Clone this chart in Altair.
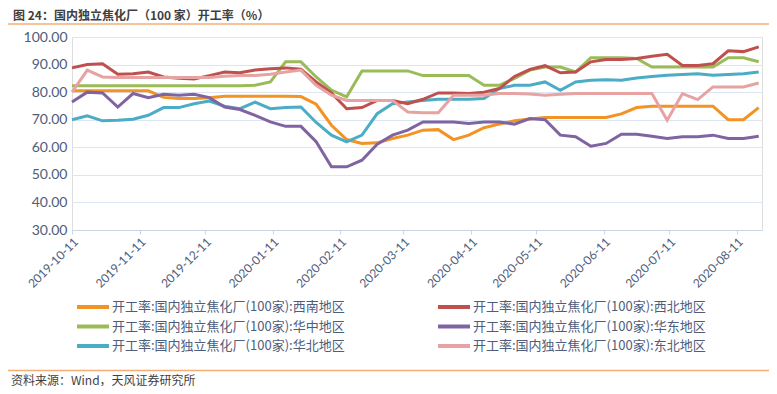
import altair as alt
import pandas as pd

# ---- data ----
dates = pd.date_range("2019-10-11", periods=46, freq="7D")

prefix = "开工率:国内独立焦化厂(100家):"
# legend fills column by column: left column first, then right column
regions = ["西南地区", "华中地区", "华北地区", "西北地区", "华东地区", "东北地区"]
colors = ["#F39324", "#9BBB59", "#4BACC6", "#C0504D", "#8064A2", "#E6A3A1"]

southwest = [80.5, 80.5, 80.5, 80.5, 80.5, 80.5, 78.1, 77.7, 77.7, 78.0,
             78.5, 78.5, 78.5, 78.5, 78.5, 78.4, 75.6, 68.0, 62.8, 61.4,
             61.6, 63.2, 64.4, 66.2, 66.4, 62.8, 64.4, 67.1, 68.4, 69.6,
             70.3, 70.8, 70.8, 70.8, 70.8, 70.8, 72.1, 74.4, 74.9, 74.9,
             74.9, 74.9, 74.9, 70.0, 70.0, 74.4]
central = [82.3, 82.3, 82.3, 82.3, 82.3, 82.3, 82.3, 82.3, 82.3, 82.3,
           82.3, 82.3, 82.5, 83.7, 91.0, 91.0, 85.5, 80.7, 78.3, 87.7,
           87.7, 87.7, 87.7, 86.0, 86.0, 86.0, 86.0, 82.5, 82.5, 85.0,
           88.0, 89.1, 89.1, 87.3, 92.5, 92.5, 92.5, 92.2, 89.1, 89.1,
           89.1, 89.1, 89.1, 92.5, 92.5, 91.0]
north = [70.0, 71.4, 69.6, 69.8, 70.2, 71.6, 74.4, 74.4, 75.8, 76.8,
         74.9, 74.0, 76.4, 74.0, 74.4, 74.6, 69.0, 64.4, 62.0, 64.4,
         72.2, 75.8, 76.4, 77.0, 77.4, 77.4, 77.4, 77.7, 81.3, 82.5,
         82.5, 83.7, 80.7, 83.7, 84.3, 84.5, 84.3, 85.1, 85.7, 86.1,
         86.4, 86.7, 86.1, 86.4, 86.7, 87.3]
northwest = [88.8, 90.0, 90.3, 86.5, 86.7, 87.3, 85.5, 85.0, 84.8, 86.0,
             87.3, 87.0, 88.0, 88.5, 88.8, 88.3, 83.7, 79.7, 74.0, 74.4,
             77.0, 77.0, 75.8, 77.4, 79.7, 79.7, 79.5, 80.0, 81.3, 85.7,
             88.2, 89.6, 87.0, 87.3, 91.0, 91.8, 91.8, 92.2, 93.0, 93.7,
             89.7, 89.7, 90.3, 95.0, 94.7, 96.4]
east = [76.4, 80.0, 79.7, 74.6, 79.5, 78.0, 79.2, 78.9, 79.2, 78.0,
        74.6, 73.7, 71.6, 69.2, 67.6, 67.6, 62.0, 52.9, 52.9, 55.3,
        61.1, 64.4, 66.2, 69.2, 69.2, 69.2, 68.6, 69.2, 69.2, 68.4,
        70.4, 70.0, 64.4, 63.8, 60.4, 61.4, 64.7, 64.7, 64.0, 63.2,
        63.8, 63.8, 64.4, 63.2, 63.2, 64.0]
northeast = [80.0, 88.0, 85.5, 85.3, 85.3, 85.3, 85.3, 85.3, 85.3, 85.3,
             85.8, 86.0, 86.0, 86.5, 87.3, 88.0, 82.5, 78.9, 77.0, 77.0,
             77.0, 77.0, 72.8, 72.5, 72.5, 78.9, 78.9, 78.9, 79.5, 79.5,
             79.3, 78.9, 79.2, 79.5, 79.5, 79.5, 79.5, 79.5, 79.5, 69.8,
             79.5, 77.3, 81.9, 81.9, 81.9, 83.3]

tick_dates = ["2019-10-11", "2019-11-11", "2019-12-11", "2020-01-11", "2020-02-11",
              "2020-03-11", "2020-04-11", "2020-05-11", "2020-06-11", "2020-07-11",
              "2020-08-11"]
y_ticks = [30, 40, 50, 60, 70, 80, 90, 100]

title_text = "图 24：国内独立焦化厂（100 家）开工率（%）"
source_text = "资料来源：Wind，天风证券研究所"

series = [southwest, central, north, northwest, east, northeast]
names = [prefix + r for r in regions]
rows = []
for name, vals in zip(names, series):
    for d, v in zip(dates, vals):
        rows.append({"date": d, "value": v, "series": name})
df = pd.DataFrame(rows)

W, H = 690, 193
LABEL_COLOR = "#4E5D7B"

def dt(s):
    y, m, d = (int(p) for p in s.split("-"))
    return alt.DateTime(year=y, month=m, date=d)

lines = alt.Chart(df).mark_line(strokeWidth=3, clip=False).encode(
    x=alt.X("date:T",
            scale=alt.Scale(domain=[dt("2019-10-11"), alt.DateTime(year=2020, month=8, date=22, hours=12)]),
            axis=alt.Axis(values=[dt(s) for s in tick_dates], format="%Y-%m-%d",
                          labelAngle=315, labelFontSize=12, labelColor=LABEL_COLOR,
                          labelFont="Lato", grid=False, domainColor="#C9D6E8",
                          tickColor="#C9D6E8", tickSize=4, labelPadding=2,
                          title=None)),
    y=alt.Y("value:Q",
            scale=alt.Scale(domain=[30, 100], nice=False, zero=False),
            axis=alt.Axis(values=y_ticks, format=".2f", labelFontSize=14,
                          labelColor=LABEL_COLOR, labelFont="Lato",
                          grid=True, gridColor="#DCE6F2", gridWidth=1,
                          domain=False, ticks=False, labelPadding=5, title=None)),
    color=alt.Color("series:N",
                    scale=alt.Scale(domain=names, range=colors),
                    sort=names,
                    legend=alt.Legend(orient="none", legendX=11, legendY=260,
                                      columns=2, columnPadding=85, rowPadding=1.5,
                                      symbolType="M-2,0H2", symbolSize=256,
                                      symbolStrokeWidth=4, labelFontSize=13,
                                      labelFont="Noto Sans CJK SC",
                                      labelColor=LABEL_COLOR, labelLimit=400,
                                      labelOffset=9, title=None)),
)

title_df = pd.DataFrame({"t": [title_text]})
src_df = pd.DataFrame({"t": [source_text]})

title_mark = alt.Chart(title_df).mark_text(
    align="left", baseline="middle", fontSize=12, fontWeight="bold",
    font="Noto Sans CJK SC", color="#3F3F3F").encode(
    text="t:N", x=alt.value(-59), y=alt.value(-21))

top_rule = alt.Chart(title_df).mark_rule(color="#F4AE74", strokeWidth=1.5).encode(
    x=alt.value(-64), x2=alt.value(697), y=alt.value(-13))

bottom_rule = alt.Chart(src_df).mark_rule(color="#F4AE74", strokeWidth=1.5).encode(
    x=alt.value(-64), x2=alt.value(697), y=alt.value(333.5))

src_mark = alt.Chart(src_df).mark_text(
    align="left", baseline="middle", fontSize=12,
    font="Noto Sans CJK SC", color="#3F3F3F").encode(
    text="t:N", x=alt.value(-61), y=alt.value(343.5))

chart = alt.layer(lines, title_mark, top_rule, bottom_rule, src_mark).properties(
    width=W, height=H,
    autosize=alt.AutoSizeParams(type="none"),
    padding={"left": 64, "top": 29, "right": 7, "bottom": 156},
).configure_view(stroke=None).configure(background="#FFFFFF")

chart.save("out.html", embed_options={"renderer": "svg", "actions": False})
